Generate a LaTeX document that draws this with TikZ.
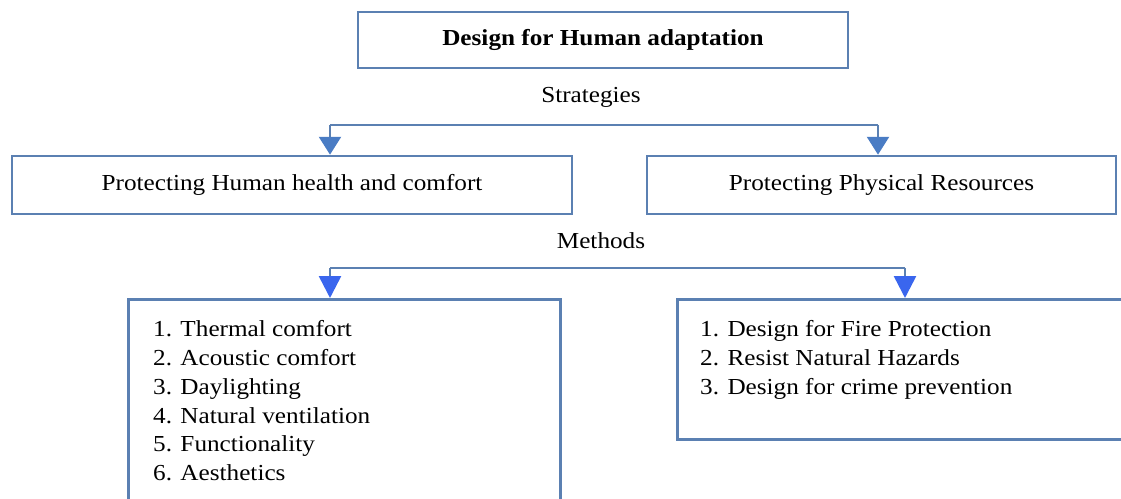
\documentclass[tikz,border=0pt]{standalone}
\usepackage{fontspec}
\setmainfont[FakeStretch=1.1]{Liberation Serif}
\usetikzlibrary{arrows.meta,positioning}
\definecolor{boxblue}{HTML}{5B80B2}
\definecolor{tipblue}{HTML}{4A7CC4}
\definecolor{tipbright}{HTML}{3A66EE}
\tikzset{
  box/.style={draw=boxblue, line width=2.6pt, rectangle, inner sep=0pt, text height=16bp, text depth=5bp, font=\fontsize{23}{29}\selectfont},
  conn/.style={draw=boxblue, line width=2.6pt},
  tipA/.style={-{Triangle[width=22pt,length=18pt,fill=tipblue,color=tipblue]}},
  tipB/.style={-{Triangle[width=22pt,length=22pt,fill=tipbright,color=tipbright]}},
  lbl/.style={font=\fontsize{23}{29}\selectfont, inner sep=0pt},
}
\begin{document}
\begin{tikzpicture}[x=1bp,y=-1bp]
\clip (0,0) rectangle (1121,499);
\fill[white] (0,0) rectangle (1121,499);
% top
\node[box, minimum width=490bp, minimum height=56bp, font=\fontsize{23}{29}\selectfont\bfseries] (T) at (603,40) {Design for Human adaptation};
\node[lbl] (S) at (591,97) {Strategies};
% level 2
\node[box, minimum width=560bp, minimum height=58bp] (P1) at (292,185) {Protecting Human health and comfort};
\node[box, minimum width=469bp, minimum height=58bp] (P2) at (881.5,185) {Protecting Physical Resources};
\coordinate (sl) at (330,125);
\coordinate (sr) at (878,125);
\draw[conn] (sl) -- (sr);
\draw[conn,tipA] (sl) -- (sl |- P1.north);
\draw[conn,tipA] (sr) -- (sr |- P2.north);
\node[lbl] (M) at (601,241) {Methods};
% level 3
\node[box, minimum width=432bp, minimum height=230bp, anchor=north west] (L) at (127,298) {};
\node[box, minimum width=460bp, minimum height=140bp, anchor=north west] (R) at (676,298) {};
\node[lbl, anchor=north west, align=left] (Lt) at (153,320) {1. Thermal comfort\\2. Acoustic comfort\\3. Daylighting\\4. Natural ventilation\\5. Functionality\\6. Aesthetics};
\node[lbl, anchor=north west, align=left] (Rt) at (700,320) {1. Design for Fire Protection\\2. Resist Natural Hazards\\3. Design for crime prevention};
\coordinate (ml) at (330,268);
\coordinate (mr) at (905,268);
\draw[conn] (ml) -- (mr);
\draw[conn,tipB] (ml) -- (ml |- L.north);
\draw[conn,tipB] (mr) -- (mr |- R.north);
\end{tikzpicture}
\end{document}
